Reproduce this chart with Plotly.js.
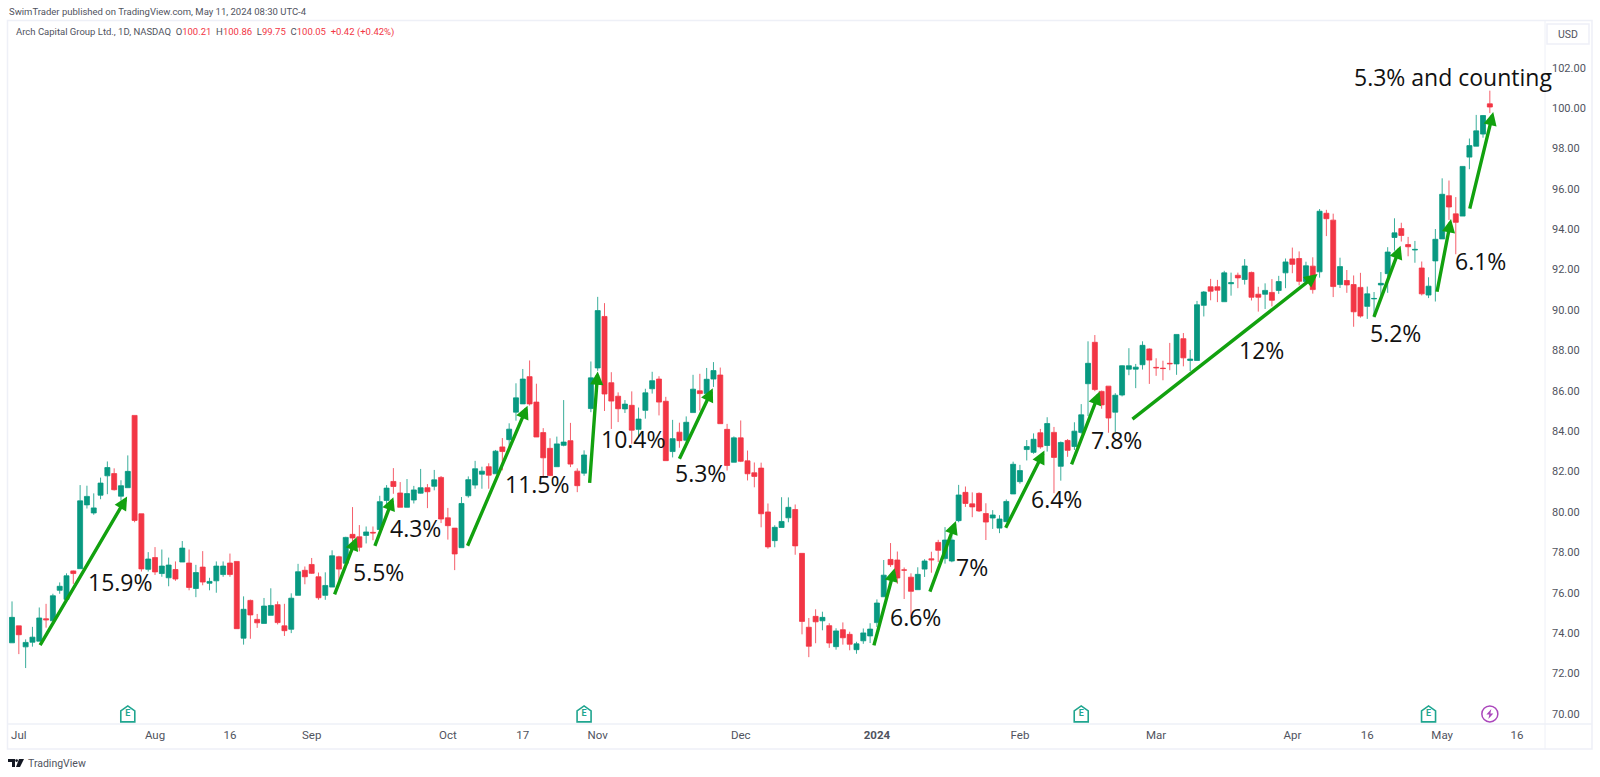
<!DOCTYPE html>
<html><head><meta charset="utf-8">
<script src="https://cdn.plot.ly/plotly-3.0.1.min.js"></script>
<style>html,body{margin:0;padding:0;background:#fff}#c{width:1600px;height:777px}</style>
</head><body><div id="c"></div>
<script>
const opens=[73.52,74.36,73.32,73.55,73.6,74.71,74.61,76.12,75.67,77.08,
77.19,80.35,79.95,80.83,81.79,81.9,80.78,81.2,84.78,79.91,
77.16,77.74,76.95,76.74,77.15,77.52,77.47,76.21,77.27,76.47,
76.59,76.9,77.47,77.55,73.75,75.62,74.68,74.48,74.88,75.41,
74.36,74.19,75.87,77.11,77.4,76.79,75.87,76.28,77.78,77.46,
78.89,78.77,78.84,78.99,79.13,80.57,81.51,80.94,80.23,80.59,
80.93,81.2,81.27,81.71,79.71,79.2,78.23,80.8,81.33,81.87,
82.24,81.89,83.22,83.58,84.94,85.35,86.7,85.44,83.93,83.15,
82.24,83.3,83.53,82.02,81.92,85.12,87.13,89.68,86.4,85.73,
85.1,85.28,84.09,85.03,86.1,86.58,85.48,82.99,83.95,83.55,
84.92,86.0,85.86,86.58,86.78,84.09,82.46,83.67,82.53,81.94,
82.17,80.0,78.58,79.23,79.71,80.12,77.95,74.29,74.83,74.61,
74.37,73.33,74.17,73.94,73.18,73.62,73.86,74.52,75.8,77.65,
77.62,77.13,76.77,76.15,77.17,77.68,78.49,77.69,77.57,79.57,
80.97,80.4,80.92,79.92,79.7,79.2,79.52,80.89,81.5,83.09,
82.95,83.92,83.29,83.94,82.26,83.54,83.24,83.94,86.35,88.4,
85.97,86.23,84.94,85.79,87.07,87.07,87.29,88.07,87.16,87.12,
87.36,87.33,88.58,87.5,87.5,90.23,91.15,91.15,90.41,91.3,
91.72,91.51,91.86,90.78,90.78,90.87,90.97,91.84,92.53,92.55,
91.41,92.17,91.89,94.79,94.45,91.26,91.46,91.26,91.12,90.18,
90.55,91.24,91.8,93.59,94.03,93.24,92.97,92.08,90.74,92.43,
93.52,95.66,94.76,94.65,97.57,98.11,98.71,100.21];
const highs=[75.57,74.36,73.69,74.31,75.27,75.45,75.95,76.51,76.96,77.1,
81.33,81.3,80.92,81.7,82.5,82.16,81.57,82.8,84.78,79.91,
78.01,78.26,78.14,77.74,77.55,78.56,78.14,77.38,78.06,76.74,
77.55,77.55,77.94,77.55,75.82,75.66,74.95,75.74,76.22,75.57,
75.45,75.97,77.43,77.3,77.72,77.0,77.01,78.1,77.83,78.77,
80.24,79.35,79.28,79.28,80.8,81.33,82.17,81.48,81.63,81.29,
82.13,81.38,82.08,81.78,80.2,79.2,80.74,81.76,82.53,82.24,
82.41,83.07,83.66,84.39,86.37,87.08,87.5,86.35,84.15,83.65,
83.73,85.54,84.41,82.16,83.05,87.45,90.65,90.34,86.92,85.92,
85.54,85.97,85.17,86.1,86.94,86.72,85.7,84.56,84.42,84.73,
86.79,86.84,87.13,87.42,87.15,84.36,83.74,84.53,83.04,82.45,
82.44,80.42,79.34,80.73,80.72,80.37,77.95,74.75,75.18,75.06,
74.49,74.24,74.53,74.07,73.57,74.23,74.49,75.67,77.62,78.46,
78.04,77.25,76.96,77.26,77.66,78.03,78.62,79.25,78.86,81.34,
81.26,80.97,80.97,80.43,80.09,79.84,80.62,82.49,82.33,83.56,
83.89,84.11,84.69,84.21,83.49,83.61,84.44,85.34,88.45,88.76,
86.01,86.23,85.88,87.26,88.11,87.33,88.45,88.1,87.61,87.49,
88.37,88.79,88.86,88.02,90.45,90.94,91.54,91.49,91.94,91.85,
91.85,92.52,91.9,91.15,91.32,91.53,91.69,92.55,93.09,92.9,
92.39,92.61,95.0,94.96,94.77,92.59,91.98,91.71,91.84,91.16,
90.89,91.88,93.11,94.54,94.32,93.62,93.42,92.4,91.62,94.01,
96.52,96.41,95.59,97.12,98.49,99.66,99.65,100.86];
const lows=[73.52,72.96,72.27,73.33,73.6,74.27,74.61,75.95,75.67,76.44,
77.19,80.17,79.86,80.63,80.88,81.06,80.56,81.2,79.49,77.05,
77.05,76.88,76.79,76.32,76.59,77.52,76.12,75.78,76.37,76.12,
76.0,76.79,76.79,74.22,73.43,73.72,74.26,74.48,74.88,74.43,
73.86,74.0,75.87,76.42,76.93,75.65,75.65,76.28,76.61,77.46,
78.52,78.05,78.44,78.6,79.13,80.33,80.9,80.23,80.23,80.42,
80.91,80.19,81.07,79.45,78.63,77.12,78.23,80.71,81.15,81.15,
81.15,81.89,82.06,83.21,84.52,85.35,85.27,83.71,81.7,81.8,
82.24,83.25,82.22,80.98,81.79,84.94,86.99,85.0,84.11,84.45,
84.9,83.38,83.71,84.62,85.86,84.78,82.54,82.7,83.18,83.21,
84.92,85.02,85.7,86.19,84.37,82.05,82.46,82.47,81.56,81.22,
79.24,78.18,78.25,79.23,79.49,77.88,73.94,72.81,73.5,74.14,
73.27,73.18,73.43,73.15,72.98,73.47,73.51,74.3,75.8,77.28,
76.44,75.69,74.77,76.15,76.78,76.99,77.52,77.44,77.51,79.49,
80.25,79.74,80.0,78.61,79.16,78.95,79.49,80.89,81.4,82.55,
82.88,83.13,82.99,80.93,81.55,82.73,83.07,83.87,84.75,85.98,
85.11,83.92,83.94,85.72,86.77,86.13,87.05,86.34,86.74,86.52,
87.02,86.79,87.21,86.98,87.5,89.68,90.48,90.39,90.41,90.71,
91.08,91.26,90.47,89.92,90.05,90.18,90.8,91.08,91.82,91.22,
91.38,90.81,91.6,93.66,90.64,91.09,90.85,89.17,89.62,89.56,
89.64,90.55,90.85,92.94,93.39,92.66,92.34,90.72,90.59,90.42,
93.52,94.46,92.76,94.65,96.97,98.11,98.53,99.75];
const closes=[74.78,73.92,73.54,73.8,74.75,74.66,75.85,76.32,76.84,76.95,
80.55,80.77,80.2,81.43,82.2,81.1,81.3,82.01,79.58,77.18,
77.67,77.03,77.32,77.37,76.68,78.21,76.26,77.0,76.53,76.56,
77.32,77.32,76.9,74.22,75.18,74.9,74.51,75.34,75.37,74.52,
74.12,75.73,77.04,76.79,76.96,75.75,76.36,77.83,77.17,78.74,
78.71,78.25,79.01,78.96,80.51,81.18,81.26,80.23,80.91,81.09,
81.2,81.0,81.59,79.65,79.32,77.92,80.42,81.6,82.14,82.02,
81.82,83.01,82.99,84.1,85.65,86.58,85.35,83.71,82.68,81.8,
83.37,83.46,82.37,81.3,82.82,86.64,89.97,85.84,85.49,85.11,
85.34,84.05,84.6,85.9,86.5,85.44,82.54,83.63,83.53,84.44,
86.08,85.86,86.57,87.0,84.37,82.3,83.67,82.51,81.89,81.76,
79.91,78.27,79.24,79.53,80.23,78.32,74.58,73.35,74.56,74.78,
73.51,74.11,73.77,73.45,73.47,74.01,74.2,75.49,76.87,77.39,
76.73,77.12,76.07,76.91,77.57,77.63,78.1,78.61,78.61,80.84,
80.42,80.25,80.05,79.5,79.85,79.65,80.52,82.36,82.05,83.24,
83.6,83.22,84.38,82.7,83.44,83.05,84.0,84.81,87.36,86.06,
85.3,84.65,85.78,87.24,87.24,87.17,88.25,87.52,87.14,87.1,
87.34,88.79,87.63,87.57,90.26,90.89,90.93,90.98,91.84,91.35,
91.59,92.18,90.63,90.63,90.97,90.48,91.41,92.38,92.26,91.42,
92.19,91.01,94.89,94.52,91.16,92.15,91.24,89.91,89.7,90.8,
90.57,91.32,92.87,93.82,93.69,93.13,93.0,90.8,91.18,93.5,
95.73,95.1,94.34,97.11,98.14,98.87,99.63,100.05];

const xTickBars=[1,21,32,44,64,75,86,107,127,148,168,188,199,210,221];
const xTickLabels=['Jul','Aug','16','Sep','Oct','17','Nov','Dec','<b>2024</b>','Feb','Mar','Apr','16','May','16'];
const yTicks=[70,72,74,76,78,80,82,84,86,88,90,92,94,96,98,100,102];

const gainLabels=['15.9%','5.5%','4.3%','11.5%','10.4%','5.3%','6.6%','7%','6.4%','7.8%','12%','5.2%','6.1%','5.3% and counting'];
const gainLabelBars=[15.96,53.8,59.2,77.2,91.2,101.1,132.7,140.97,153.4,162.2,183.5,203.1,215.6,211.6];
const gainLabelPrices=[76.55,77.01,79.19,81.39,83.61,81.93,74.82,77.28,80.63,83.56,88.02,88.86,92.43,101.56];

const arrowStartBars=[4.0,47.28,53.2,66.8,84.8,97.9,126.5,134.7,145.8,155.5,164.3,199.9,209.2,214];
const arrowStartPrices=[73.33,75.84,78.25,78.25,81.37,82.56,73.32,75.98,79.14,82.28,84.54,89.59,90.83,94.95];
const arrowEndBars=[16.9,50.6,56.0,75.7,86.0,102.9,129.6,138.6,151.6,159.7,191.7,203.9,211.3,217.5];
const arrowEndPrices=[80.76,78.75,80.73,85.26,86.95,86.12,77.21,79.55,83.04,85.96,91.78,93.18,94.5,99.8];

const earningsBars=[17,84,157,208];
const dividendBars=[217];

const GREEN='#089981',RED='#f23645',ARROW='#12a10f',FRAME='#eef0f7',ICON='#1fa58f',PURPLE='#ab47bc';
const L=8,R=1545,T=21,B=724;
const px=x=>(x-L)/(R-L), py=y=>(B-y)/(B-T);
const bars=opens.map((_,i)=>i);

const traces=[
 {type:'candlestick',x:bars,open:opens,high:highs,low:lows,close:closes,
  increasing:{line:{color:GREEN,width:0.8},fillcolor:GREEN},
  decreasing:{line:{color:RED,width:0.8},fillcolor:RED},
  whiskerwidth:0,hoverinfo:'skip',showlegend:false},
 {type:'scatter',mode:'text',x:earningsBars,y:earningsBars.map(()=>70),
  text:earningsBars.map(()=>'<b>E</b>'),textposition:'middle center',
  textfont:{family:'Roboto',size:9,color:ICON},
  cliponaxis:false,hoverinfo:'skip',showlegend:false},
 {type:'scatter',mode:'markers',x:dividendBars,y:dividendBars.map(()=>70),
  marker:{symbol:'circle-open',size:16,color:PURPLE,line:{color:PURPLE,width:1.5}},
  cliponaxis:false,hoverinfo:'skip',showlegend:false}
];

const annotations=[];
arrowEndBars.forEach((b,i)=>annotations.push({
  xref:'x',yref:'y',axref:'x',ayref:'y',x:b,y:arrowEndPrices[i],ax:arrowStartBars[i],ay:arrowStartPrices[i],
  text:'',showarrow:true,arrowhead:2,arrowsize:0.78,arrowwidth:3.4,arrowcolor:ARROW,standoff:0,startstandoff:0}));
gainLabels.forEach((t,i)=>annotations.push({
  xref:'x',yref:'y',x:gainLabelBars[i],y:gainLabelPrices[i],text:t,showarrow:false,
  xanchor:'center',yanchor:'middle',font:{family:'Open Sans',size:23,color:'#111'}}));
const sm='Roboto';
annotations.push(
 {xref:'paper',yref:'paper',x:px(7),y:py(11),xanchor:'left',yanchor:'middle',showarrow:false,
  text:'SwimTrader published on TradingView.com, May 11, 2024 08:30 UTC-4',font:{family:sm,size:9.5,color:'#50535e'}},
 {xref:'paper',yref:'paper',x:px(14),y:py(32.5),xanchor:'left',yanchor:'middle',showarrow:false,
  text:'Arch Capital Group Ltd., 1D, NASDAQ  O<span style="color:#f23645">100.21</span>  H<span style="color:#f23645">100.86</span>  L<span style="color:#f23645">99.75</span>  C<span style="color:#f23645">100.05</span>  <span style="color:#f23645">+0.42 (+0.42%)</span>',
  font:{family:sm,size:9.5,color:'#50535e'}},
 {xref:'paper',yref:'paper',x:px(1568),y:py(34),xanchor:'center',yanchor:'middle',showarrow:false,
  text:'USD',font:{family:sm,size:10.5,color:'#50535e'}},
 {xref:'paper',yref:'paper',x:px(26),y:py(763),xanchor:'left',yanchor:'middle',showarrow:false,
  text:'TradingView',font:{family:sm,size:10.5,color:'#50535e'}}
);
const pathOf=pts=>'M'+pts.map(p=>px(p[0])+','+py(p[1])).join(' L')+' Z';
const shapes=[
 {type:'rect',xref:'paper',yref:'paper',x0:px(7.5),x1:px(1592),y0:py(749),y1:py(20.5),line:{color:FRAME,width:1.5},layer:'below'},
 {type:'line',xref:'paper',yref:'paper',x0:px(7.5),x1:px(1592),y0:py(B),y1:py(B),line:{color:FRAME,width:1.5},layer:'below'},
 {type:'line',xref:'paper',yref:'paper',x0:px(R),x1:px(R),y0:py(20.5),y1:py(749),line:{color:FRAME,width:1},layer:'below'},
 {type:'rect',xref:'paper',yref:'paper',x0:px(1547),x1:px(1589),y0:py(44),y1:py(24),line:{color:FRAME,width:1.5},layer:'below'},
 {type:'path',xref:'paper',yref:'paper',path:pathOf([[8,759],[15,759],[15,767],[12,767],[12,762],[8,762]]),fillcolor:'#131722',line:{width:0}},
 {type:'path',xref:'paper',yref:'paper',path:pathOf([[19,759],[24,759],[20,767],[16,767]]),fillcolor:'#131722',line:{width:0}},
 {type:'circle',xref:'paper',yref:'paper',x0:px(15.2),x1:px(18),y0:py(762),y1:py(759.2),fillcolor:'#131722',line:{width:0}}
];
earningsBars.forEach(b=>shapes.push({type:'path',xref:'x',yref:'y',xsizemode:'pixel',ysizemode:'pixel',xanchor:b,yanchor:70,
  path:'M-7,-8 L-7,3 L0,8 L7,3 L7,-8 Z',line:{color:ICON,width:1.6},fillcolor:'rgba(0,0,0,0)'}));
dividendBars.forEach(b=>shapes.push({type:'path',xref:'x',yref:'y',xsizemode:'pixel',ysizemode:'pixel',xanchor:b,yanchor:70,
  path:'M1.5,5 L-3.5,-0.5 L-0.5,-0.5 L-1.5,-5 L3.5,0.5 L0.5,0.5 Z',line:{width:0},fillcolor:PURPLE}));

Plotly.newPlot('c',traces,{
 width:1600,height:777,autosize:false,paper_bgcolor:'#fff',plot_bgcolor:'#fff',
 margin:{l:L,r:1600-R,t:T,b:777-B,pad:0},
 showlegend:false,dragmode:false,boxgap:0.15,boxgroupgap:0.14,
 xaxis:{type:'linear',range:[-0.59,225.1],tickmode:'array',tickvals:xTickBars,ticktext:xTickLabels,
  rangeslider:{visible:false},showgrid:false,zeroline:false,showline:false,ticks:'',ticklabelstandoff:2,
  tickangle:0,tickfont:{family:sm,size:11.5,color:'#50535e'}},
 yaxis:{type:'linear',side:'right',range:[69.5,104.31],tickmode:'array',tickvals:yTicks,
  ticktext:yTicks.map(v=>v.toFixed(2)),showgrid:false,zeroline:false,showline:false,ticks:'',ticklabelstandoff:6,
  tickfont:{family:sm,size:11,color:'#50535e'}},
 annotations,shapes
},{staticPlot:true,displayModeBar:false});
</script></body></html>
